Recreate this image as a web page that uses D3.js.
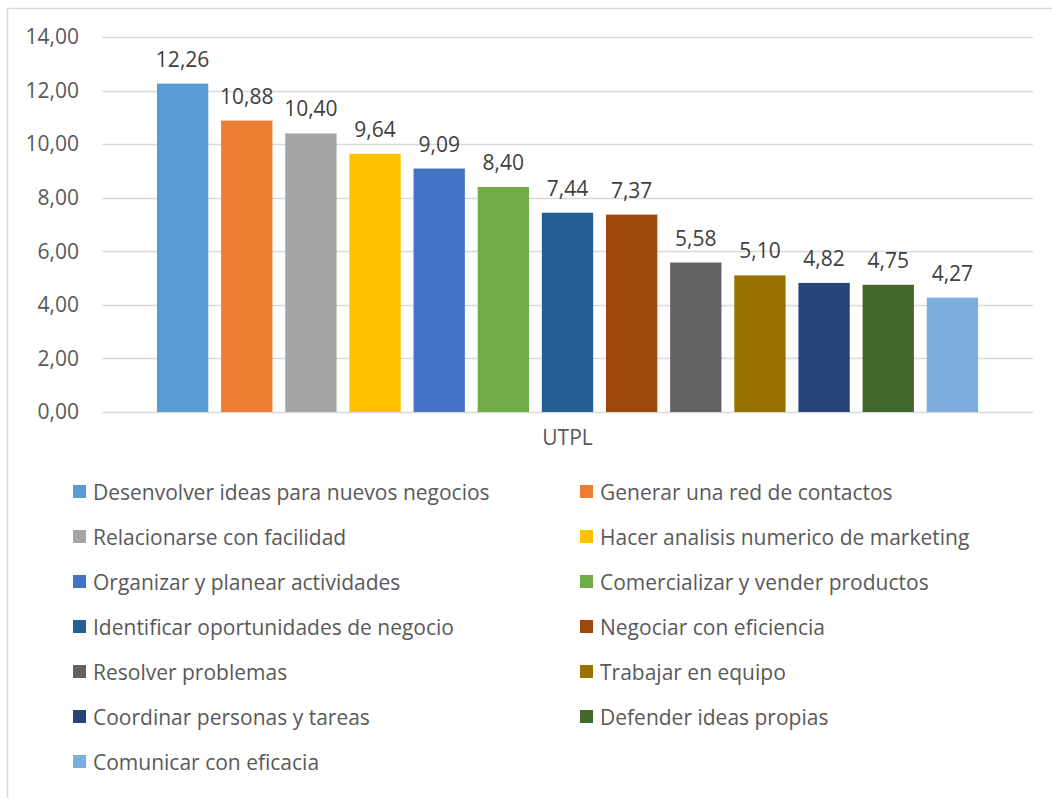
<!DOCTYPE html>
<html>
<head>
<meta charset="utf-8">
<script src="https://cdn.jsdelivr.net/npm/d3@7"></script>
<style>
  body { margin: 0; background: #fff; }
  text { font-family: "Open Sans", sans-serif; }
</style>
</head>
<body>
<div id="chart"></div>
<script>
// data
var categories = ["UTPL"];
var seriesNames = [
  "Desenvolver ideas para nuevos negocios",
  "Generar una red de contactos",
  "Relacionarse con facilidad",
  "Hacer analisis numerico de marketing",
  "Organizar y planear actividades",
  "Comercializar y vender productos",
  "Identificar oportunidades de negocio",
  "Negociar con eficiencia",
  "Resolver problemas",
  "Trabajar en equipo",
  "Coordinar personas y tareas",
  "Defender ideas propias",
  "Comunicar con eficacia"
];
var seriesValues = [12.26, 10.88, 10.40, 9.64, 9.09, 8.40, 7.44, 7.37, 5.58, 5.10, 4.82, 4.75, 4.27];
var seriesColors = ["#5B9BD5", "#ED7D31", "#A5A5A5", "#FFC000", "#4472C4", "#70AD47",
                    "#255E91", "#9E480E", "#636363", "#997300", "#264478", "#43682B", "#7CAFDD"];
var yTicks = [0, 2, 4, 6, 8, 10, 12, 14];

var W = 1052, H = 798;
var margin = {top: 37, right: 19, bottom: 386, left: 102},
    width = W - margin.left - margin.right,
    height = H - margin.top - margin.bottom;
var fontSize = "21px";

var fmt = function(v) { return d3.format(".2f")(v).replace(".", ","); };

var svg = d3.select("#chart")
  .append("svg")
    .attr("width", W)
    .attr("height", H);

// chart border (only left and top fall inside the picture)
svg.append("path")
  .attr("d", "M7.5," + H + "V8.5H" + W)
  .attr("fill", "none")
  .attr("stroke", "#d9d9d9")
  .attr("stroke-width", 1.5);

var g = svg.append("g")
  .attr("transform", "translate(" + margin.left + "," + margin.top + ")");

var y = d3.scaleLinear()
  .domain([0, 14])
  .range([height, 0]);

var x0 = d3.scaleBand()
  .domain(categories)
  .range([0, width])
  .paddingInner(0)
  .paddingOuter(0.0582);

var x1 = d3.scaleBand()
  .domain(seriesNames)
  .range([0, x0.bandwidth()])
  .paddingInner(0.2)
  .paddingOuter(0.1);

// gridlines
g.append("g")
  .selectAll("line")
  .data(yTicks)
  .enter()
  .append("line")
    .attr("x1", 0)
    .attr("x2", width)
    .attr("y1", function(d) { return Math.round(y(d)) + 0.5; })
    .attr("y2", function(d) { return Math.round(y(d)) + 0.5; })
    .attr("stroke", "#d9d9d9")
    .attr("stroke-width", 1.5);

// y axis labels
var yAxis = g.append("g")
  .attr("transform", "translate(-20,0)")
  .call(d3.axisLeft(y).tickValues(yTicks).tickSize(0).tickFormat(fmt));
yAxis.select(".domain").remove();
yAxis.selectAll("text")
  .style("font-family", "'Open Sans', sans-serif")
  .style("font-size", fontSize)
  .attr("fill", "#595959");

// bars
var group = g.selectAll(".cat")
  .data(categories)
  .enter()
  .append("g")
    .attr("class", "cat")
    .attr("transform", function(d) { return "translate(" + x0(d) + ",0)"; });

group.selectAll("rect")
  .data(seriesNames.map(function(n, i) { return {name: n, value: seriesValues[i], color: seriesColors[i]}; }))
  .enter()
  .append("rect")
    .attr("x", function(d) { return x1(d.name); })
    .attr("y", function(d) { return y(d.value); })
    .attr("width", x1.bandwidth())
    .attr("height", function(d) { return height - y(d.value); })
    .attr("fill", function(d) { return d.color; });

group.selectAll(".lbl")
  .data(seriesNames.map(function(n, i) { return {name: n, value: seriesValues[i]}; }))
  .enter()
  .append("text")
    .attr("class", "lbl")
    .attr("x", function(d) { return x1(d.name) + x1.bandwidth() / 2; })
    .attr("y", function(d) { return y(d.value) - 17; })
    .attr("text-anchor", "middle")
    .style("font-size", fontSize)
    .attr("fill", "#404040")
    .text(function(d) { return fmt(d.value); });

// category axis
var xAxis = g.append("g")
  .attr("transform", "translate(0," + height + ")")
  .call(d3.axisBottom(x0).tickSize(0).tickPadding(18));
xAxis.select(".domain").remove();
xAxis.selectAll("text")
  .style("font-family", "'Open Sans', sans-serif")
  .style("font-size", fontSize)
  .attr("fill", "#595959");

// legend
var legend = svg.append("g")
  .selectAll("g")
  .data(seriesNames)
  .enter()
  .append("g")
    .attr("transform", function(d, i) {
      var col = i % 2, row = Math.floor(i / 2);
      return "translate(" + (col === 0 ? 73 : 580) + "," + (492 + row * 45) + ")";
    });

legend.append("rect")
  .attr("x", 0)
  .attr("y", -7)
  .attr("width", 13)
  .attr("height", 13)
  .attr("fill", function(d, i) { return seriesColors[i]; });

legend.append("text")
  .attr("x", 20)
  .attr("y", 1)
  .attr("dy", "0.35em")
  .style("font-size", fontSize)
  .attr("fill", "#595959")
  .text(function(d) { return d; });
</script>
</body>
</html>
